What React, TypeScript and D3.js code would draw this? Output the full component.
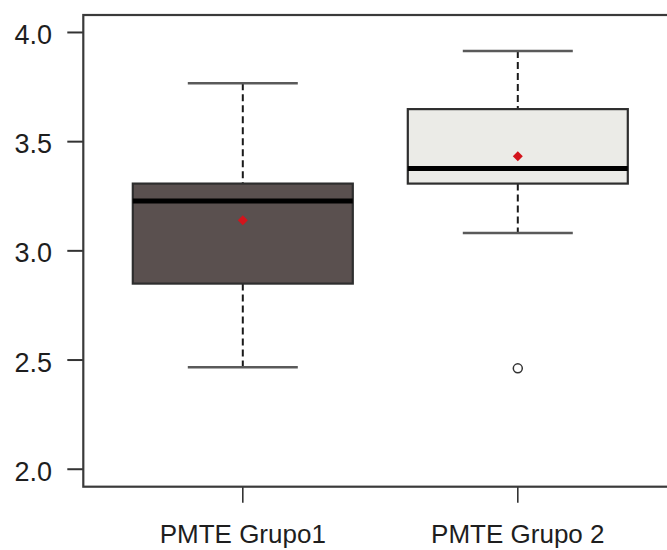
import React from "react";
import * as d3 from "d3";

const categories = ["PMTE Grupo1", "PMTE Grupo 2"];
const lowerWhisker = [2.467, 3.082];
const q1 = [2.85, 3.308];
const median = [3.228, 3.377];
const q3 = [3.308, 3.649];
const upperWhisker = [3.767, 3.915];
const means = [3.14, 3.433];
const outliers = [[], [2.462]];
const fills = ["#5a504f", "#ebebe7"];
const yTicks = [2.0, 2.5, 3.0, 3.5, 4.0];

const W = 667;
const H = 550;
const left = 83.3;
const right = 677.3;
const top = 15;
const bottom = 486.7;

export default function App() {
  const x = d3.scaleLinear().domain([0.42, 2.58]).range([left, right]);
  const y = d3.scaleLinear().domain([1.92, 4.08]).range([bottom, top]);
  const boxHalf = x(1.4) - x(1);
  const stapleHalf = x(1.2) - x(1);
  const font = "Liberation Sans, Arial, sans-serif";
  const d = 5;
  const diamond = `M0,${-d}L${d},0L0,${d}L${-d},0Z`;

  return (
    <svg
      width={W}
      height={H}
      style={{ position: "absolute", left: 0, top: 0, background: "#fff" }}
    >
      <rect x={0} y={0} width={W} height={H} fill="#fff" />
      {categories.map((c, i) => {
        const cx = x(i + 1);
        return (
          <g key={c}>
            <line
              x1={cx}
              x2={cx}
              y1={y(upperWhisker[i])}
              y2={y(q3[i])}
              stroke="#1a1a1a"
              strokeWidth={2}
              strokeDasharray="7,4"
            />
            <line
              x1={cx}
              x2={cx}
              y1={y(q1[i])}
              y2={y(lowerWhisker[i])}
              stroke="#1a1a1a"
              strokeWidth={2}
              strokeDasharray="7,4"
            />
            <line
              x1={cx - stapleHalf}
              x2={cx + stapleHalf}
              y1={y(upperWhisker[i])}
              y2={y(upperWhisker[i])}
              stroke="#5a5a5a"
              strokeWidth={2.5}
            />
            <line
              x1={cx - stapleHalf}
              x2={cx + stapleHalf}
              y1={y(lowerWhisker[i])}
              y2={y(lowerWhisker[i])}
              stroke="#5a5a5a"
              strokeWidth={2.5}
            />
            <rect
              x={cx - boxHalf}
              y={y(q3[i])}
              width={2 * boxHalf}
              height={y(q1[i]) - y(q3[i])}
              fill={fills[i]}
              stroke="#2e2e2e"
              strokeWidth={2.2}
            />
            <line
              x1={cx - boxHalf}
              x2={cx + boxHalf}
              y1={y(median[i])}
              y2={y(median[i])}
              stroke="#000"
              strokeWidth={5}
            />
            <path
              d={diamond}
              transform={`translate(${cx},${y(means[i])})`}
              fill="#d3141c"
            />
            {outliers[i].map((o, j) => (
              <circle
                key={j}
                cx={cx}
                cy={y(o)}
                r={4.5}
                fill="none"
                stroke="#333"
                strokeWidth={1.5}
              />
            ))}
            <line
              x1={cx}
              x2={cx}
              y1={bottom}
              y2={bottom + 16}
              stroke="#333"
              strokeWidth={1.6}
            />
            <text
              x={cx}
              y={543}
              textAnchor="middle"
              fontFamily={font}
              fontSize={26}
              fill="#1e1e1e"
            >
              {c}
            </text>
          </g>
        );
      })}
      {yTicks.map((t) => (
        <g key={t}>
          <line
            x1={left - 16}
            x2={left}
            y1={y(t)}
            y2={y(t)}
            stroke="#333"
            strokeWidth={2}
          />
          <text
            x={52}
            y={y(t) + 11.5}
            textAnchor="end"
            fontFamily={font}
            fontSize={27}
            fill="#1e1e1e"
          >
            {t.toFixed(1)}
          </text>
        </g>
      ))}
      <rect
        x={left}
        y={top}
        width={right - left}
        height={bottom - top}
        fill="none"
        stroke="#3a3a3a"
        strokeWidth={2.2}
      />
    </svg>
  );
}
